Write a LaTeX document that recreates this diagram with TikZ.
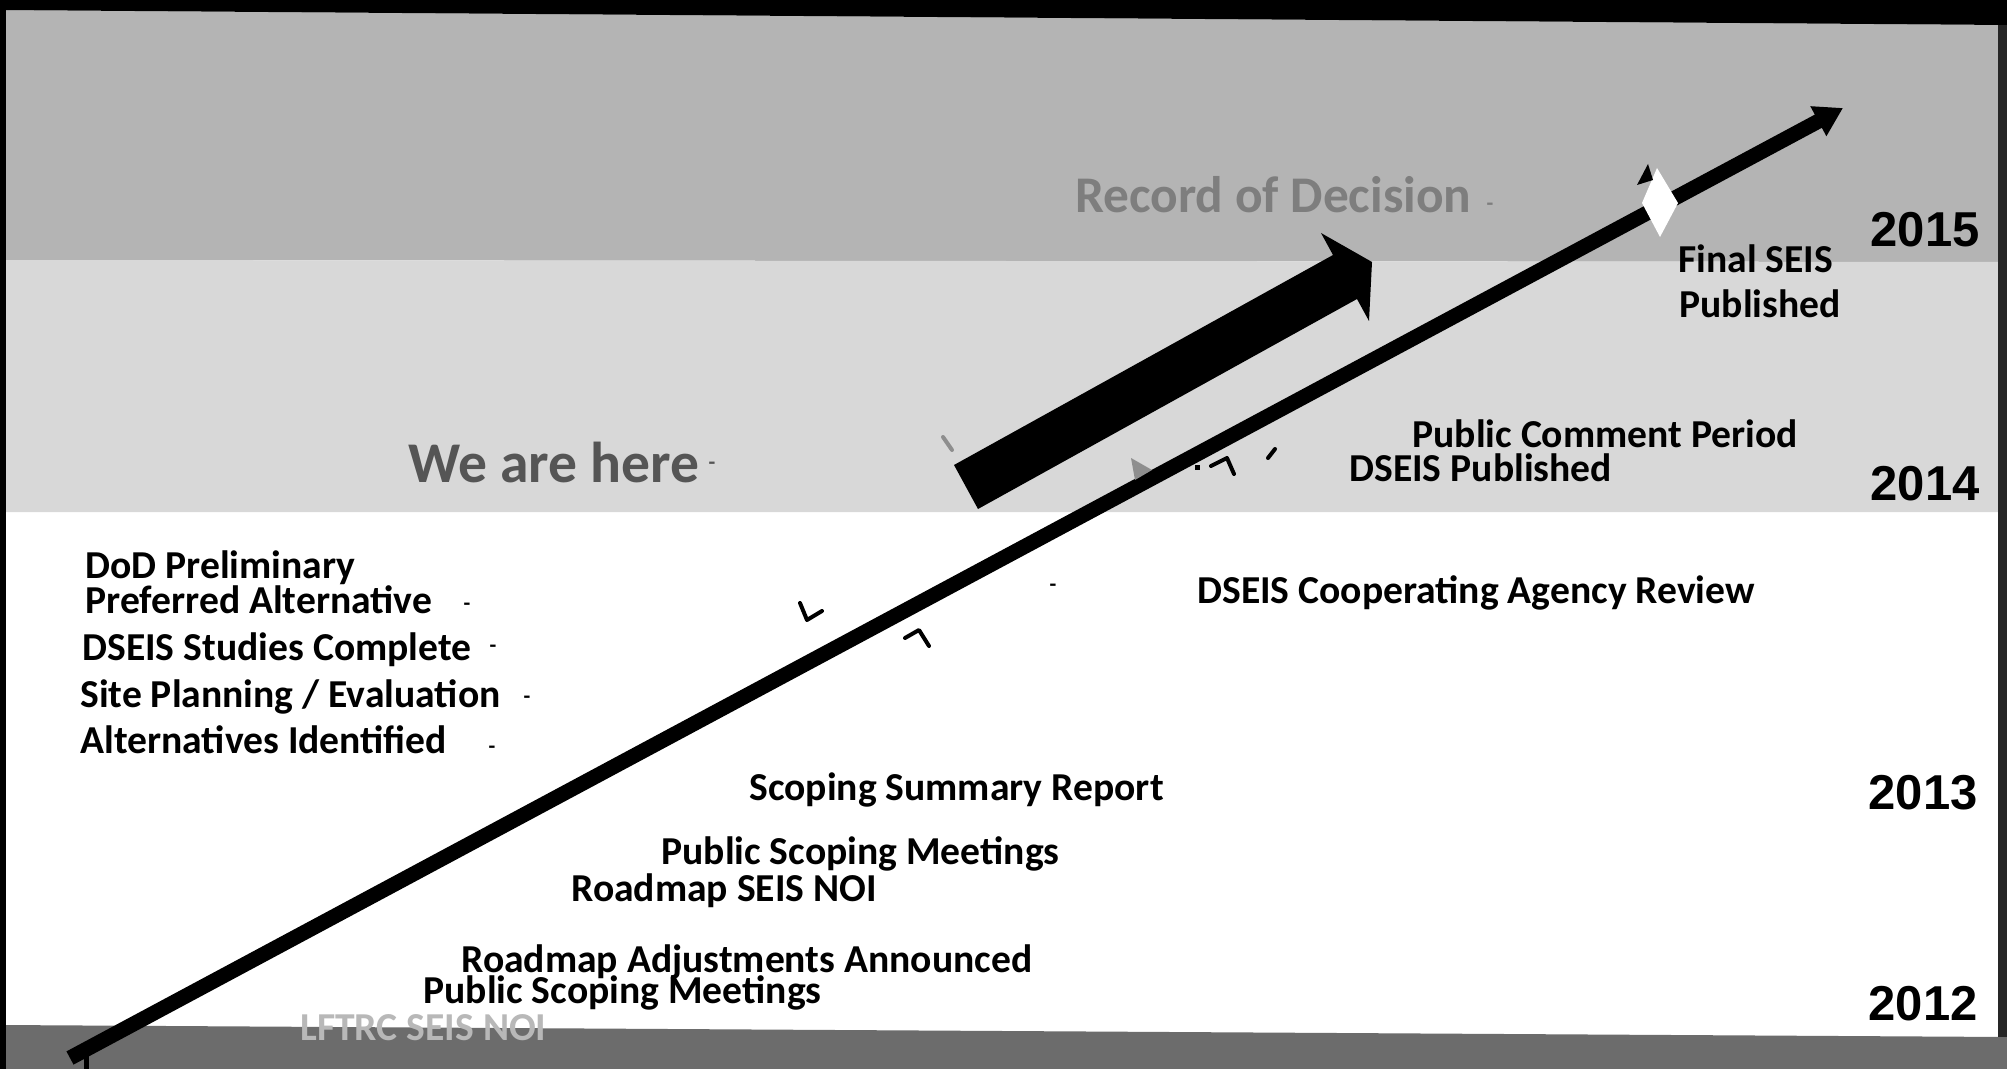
\documentclass[tikz,border=0pt]{standalone}
\usepackage{fontspec}
\setmainfont{Carlito}
\newfontfamily\yearfont{Liberation Sans}
\usetikzlibrary{arrows.meta}
\definecolor{bandA}{HTML}{B4B4B4}
\definecolor{bandB}{HTML}{D8D8D8}
\definecolor{bandC}{HTML}{6C6C6C}
\definecolor{recgray}{HTML}{7E7E7E}
\definecolor{heregray}{HTML}{555555}
\definecolor{lftgray}{HTML}{B8B8B8}
\definecolor{markgray}{HTML}{8E8E8E}
\begin{document}
\begin{tikzpicture}[x=0.5pt,y=-0.5pt,
  item/.style={anchor=base west, inner sep=0pt, font=\fontsize{19.8}{24}\selectfont\bfseries},
  yearlab/.style={anchor=base east, inner sep=0pt, font=\yearfont\fontsize{24.5}{28}\selectfont\bfseries},
  biglab/.style={anchor=base west, inner sep=0pt, font=\fontsize{25.7}{30}\selectfont\bfseries},
  bul/.style={anchor=center, inner sep=0pt, font=\fontsize{11}{12}\selectfont\bfseries},
  scanmark/.style={line width=2pt, line cap=round, line join=round},
  timeline/.style={line width=7.5pt, -{Triangle[length=14pt,width=16pt]}}
]
\useasboundingbox (0,0) rectangle (2007,1069);
% backgrounds
\fill[white] (0,0) rectangle (2007,1069);
\fill[bandA] (0,10) -- (2007,25) -- (2007,262) -- (0,260) -- cycle;
\fill[bandB] (0,260) -- (2007,262) -- (2007,512) -- (0,512) -- cycle;
\fill[bandC] (0,1025) -- (2007,1037) -- (2007,1069) -- (0,1069) -- cycle;
\fill[black] (0,0) -- (2007,0) -- (2007,25) -- (0,10) -- cycle;
\fill[black] (0,0) rectangle (6,1069);
\fill[black!85] (1998,25) rectangle (2007,1037);

% upper labels
\node[biglab, text=recgray] (rod) at (1075,213) {Record of Decision};
\node[bul, text=recgray] (rodb) at (1490,207) {-};
\node[biglab, text=heregray, font=\fontsize{28.8}{32}\selectfont\bfseries] (here) at (408,482) {We are here};
\node[bul, text=heregray] (hereb) at (712,466) {-};

\node[item] (fin1) at (1678,273) {Final SEIS};
\node[item] (fin2) at (1679,318) {Published};
\node[item] (pcp) at (1412,447) {Public Comment Period};
\node[item] (dpub) at (1349,481) {DSEIS Published};
\node[item] (coop) at (1197,603) {DSEIS Cooperating Agency Review};
\node[bul] (coopb) at (1053,588) {-};

\node[item] (dod1) at (85,578) {DoD Preliminary};
\node[item] (dod2) at (85,613) {Preferred Alternative};
\node[bul] (dod2b) at (467,607) {-};
\node[item] (stud) at (82,660) {DSEIS Studies Complete};
\node[bul] (studb) at (493,649) {-};
\node[item] (site) at (80,707) {Site Planning / Evaluation};
\node[bul] (siteb) at (527,700) {-};
\node[item] (alt) at (80,753) {Alternatives Identified};
\node[bul] (altb) at (492,750) {-};

\node[item] (ssr) at (749,800) {Scoping Summary Report};
\node[item] (psm1) at (661,864) {Public Scoping Meetings};
\node[item] (rsn) at (571,901) {Roadmap SEIS NOI};
\node[item] (raa) at (461,972) {Roadmap Adjustments Announced};
\node[item] (psm2) at (423,1003) {Public Scoping Meetings};
\node[item, text=lftgray] (lft) at (300,1040) {LFTRC SEIS NOI};

% years
\node[yearlab] (y15) at (1980,247) {2015};
\node[yearlab] (y14) at (1980,500) {2014};
\node[yearlab] (y13) at (1978,809) {2013};
\node[yearlab] (y12) at (1978,1020) {2012};

% thick "we are here" arrow
\fill[black] (954,465) -- (1333,255) -- (1321,233) -- (1372,262) -- (1369,321) -- (1357,299) -- (978,509) -- cycle;

% timeline arrow
\coordinate (tstart) at (70,1058);
\coordinate (ttip) at (1843,108);
\draw[timeline] (tstart) -- (ttip);
\draw[line width=2.5pt] (86,1048) -- (86,1069);

% final SEIS marker
\fill[white] (1642,203) -- (1657,168) -- (1678,203) -- (1660,237) -- cycle;
\fill[black] (1637,185) -- (1648,164) -- (1653,180) -- cycle;

% small scan marks near the timeline
\draw[scanmark] (800,603) -- (807,620) -- (822,611);
\draw[scanmark] (905,638) -- (919,630) -- (929,646);
\draw[scanmark, markgray] (943,437) -- (952,450);
\fill[markgray] (1131,458) -- (1152,470) -- (1135,480) -- cycle;
\fill[black] (1195,465) rectangle (1200,470);
\draw[scanmark] (1211,466) -- (1227,458) -- (1234,474);
\draw[scanmark] (1268,458) -- (1275,449);
\end{tikzpicture}
\end{document}
